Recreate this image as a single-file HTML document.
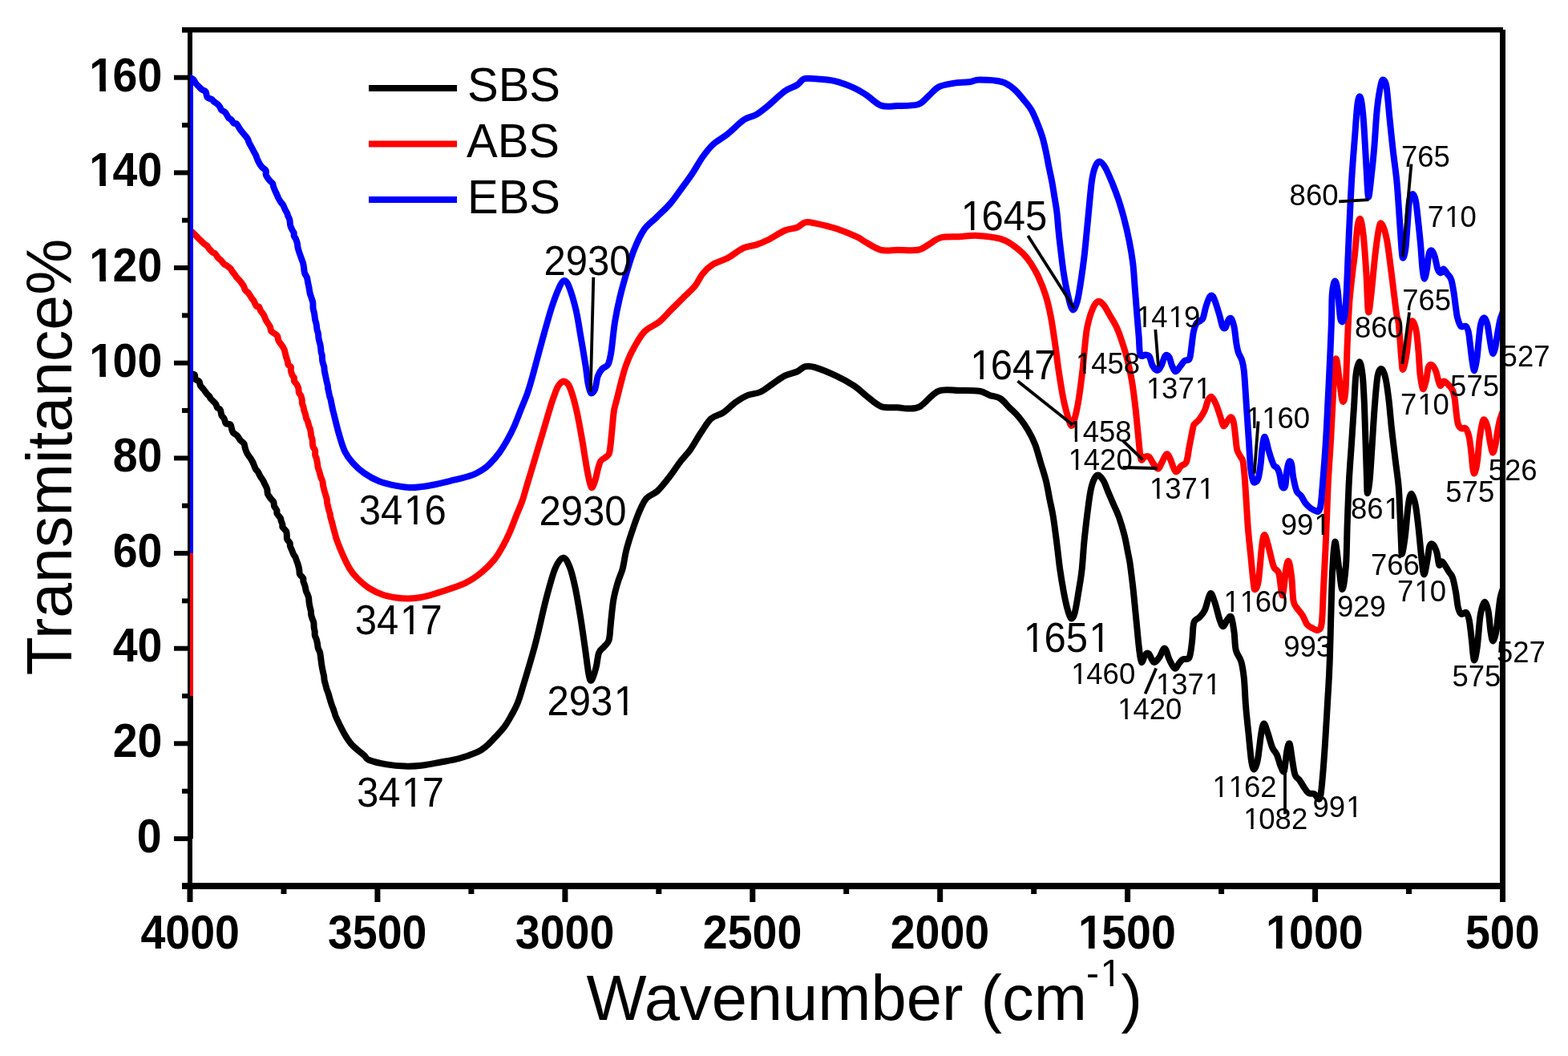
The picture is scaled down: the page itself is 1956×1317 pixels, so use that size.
<!DOCTYPE html><html><head><meta charset="utf-8"><title>FTIR</title><style>html,body{margin:0;padding:0;background:#fff;overflow:hidden}svg{display:block}</style></head><body><svg width="1956" height="1317" viewBox="0 0 1956 1317">
<rect width="100%" height="100%" fill="#fff"/>
<g fill="#000">
<rect x="234" y="34" width="6" height="1075"/>
<rect x="1871" y="37" width="7" height="1072"/>
<rect x="227" y="34" width="1648" height="6.5"/>
<rect x="227" y="1101" width="1651" height="8"/>
<rect x="227" y="1102.3" width="8" height="6"/>
<rect x="217" y="1043.0" width="18" height="6"/>
<rect x="227" y="983.7" width="8" height="6"/>
<rect x="217" y="924.3" width="18" height="6"/>
<rect x="227" y="865.0" width="8" height="6"/>
<rect x="217" y="805.7" width="18" height="6"/>
<rect x="227" y="746.4" width="8" height="6"/>
<rect x="217" y="687.0" width="18" height="6"/>
<rect x="227" y="627.7" width="8" height="6"/>
<rect x="217" y="568.4" width="18" height="6"/>
<rect x="227" y="509.0" width="8" height="6"/>
<rect x="217" y="449.7" width="18" height="6"/>
<rect x="227" y="390.4" width="8" height="6"/>
<rect x="217" y="331.0" width="18" height="6"/>
<rect x="227" y="271.7" width="8" height="6"/>
<rect x="217" y="212.4" width="18" height="6"/>
<rect x="227" y="153.1" width="8" height="6"/>
<rect x="217" y="93.7" width="18" height="6"/>
<rect x="227" y="34.4" width="8" height="6"/>
<rect x="233.5" y="1105" width="7" height="20"/>
<rect x="350.5" y="1105" width="7" height="10"/>
<rect x="467.4" y="1105" width="7" height="20"/>
<rect x="584.4" y="1105" width="7" height="10"/>
<rect x="701.4" y="1105" width="7" height="20"/>
<rect x="818.3" y="1105" width="7" height="10"/>
<rect x="935.3" y="1105" width="7" height="20"/>
<rect x="1052.2" y="1105" width="7" height="10"/>
<rect x="1169.2" y="1105" width="7" height="20"/>
<rect x="1286.2" y="1105" width="7" height="10"/>
<rect x="1403.1" y="1105" width="7" height="20"/>
<rect x="1520.1" y="1105" width="7" height="10"/>
<rect x="1637.1" y="1105" width="7" height="20"/>
<rect x="1754.0" y="1105" width="7" height="10"/>
<rect x="1871.0" y="1105" width="7" height="20"/>
</g>
<g font-family="Liberation Sans, Arial, sans-serif" font-weight="bold" style="font-kerning:none" font-size="55.5" fill="#000">
<text transform="translate(170.70,1062.80) scale(1,1.07)"><tspan x="0.00">0</tspan></text>
<text transform="translate(140.70,944.14) scale(1,1.07)"><tspan x="0.00">2</tspan><tspan x="30.87">0</tspan></text>
<text transform="translate(140.70,825.48) scale(1,1.07)"><tspan x="0.00">4</tspan><tspan x="30.87">0</tspan></text>
<text transform="translate(140.70,706.82) scale(1,1.07)"><tspan x="0.00">6</tspan><tspan x="30.87">0</tspan></text>
<text transform="translate(140.70,588.16) scale(1,1.07)"><tspan x="0.00">8</tspan><tspan x="30.87">0</tspan></text>
<text transform="translate(109.70,469.50) scale(1,1.07)" clip-path="url(#k1)"><tspan x="1.67">1</tspan><tspan x="30.87">0</tspan><tspan x="61.73">0</tspan></text>
<text transform="translate(109.70,350.84) scale(1,1.07)" clip-path="url(#k2)"><tspan x="1.67">1</tspan><tspan x="30.87">2</tspan><tspan x="61.73">0</tspan></text>
<text transform="translate(109.70,232.18) scale(1,1.07)" clip-path="url(#k3)"><tspan x="1.67">1</tspan><tspan x="30.87">4</tspan><tspan x="61.73">0</tspan></text>
<text transform="translate(109.70,113.52) scale(1,1.07)" clip-path="url(#k4)"><tspan x="1.67">1</tspan><tspan x="30.87">6</tspan><tspan x="61.73">0</tspan></text>
<text transform="translate(175.50,1183.00) scale(1,1.07)"><tspan x="0.00">4</tspan><tspan x="30.87">0</tspan><tspan x="61.73">0</tspan><tspan x="92.60">0</tspan></text>
<text transform="translate(408.93,1183.00) scale(1,1.07)"><tspan x="0.00">3</tspan><tspan x="30.87">5</tspan><tspan x="61.73">0</tspan><tspan x="92.60">0</tspan></text>
<text transform="translate(642.86,1183.00) scale(1,1.07)"><tspan x="0.00">3</tspan><tspan x="30.87">0</tspan><tspan x="61.73">0</tspan><tspan x="92.60">0</tspan></text>
<text transform="translate(876.79,1183.00) scale(1,1.07)"><tspan x="0.00">2</tspan><tspan x="30.87">5</tspan><tspan x="61.73">0</tspan><tspan x="92.60">0</tspan></text>
<text transform="translate(1110.71,1183.00) scale(1,1.07)"><tspan x="0.00">2</tspan><tspan x="30.87">0</tspan><tspan x="61.73">0</tspan><tspan x="92.60">0</tspan></text>
<text transform="translate(1343.31,1183.00) scale(1,1.07)" clip-path="url(#k5)"><tspan x="1.67">1</tspan><tspan x="30.87">5</tspan><tspan x="61.73">0</tspan><tspan x="92.60">0</tspan></text>
<text transform="translate(1577.24,1183.00) scale(1,1.07)" clip-path="url(#k6)"><tspan x="1.67">1</tspan><tspan x="30.87">0</tspan><tspan x="61.73">0</tspan><tspan x="92.60">0</tspan></text>
<text transform="translate(1828.00,1183.00) scale(1,1.07)"><tspan x="0.00">5</tspan><tspan x="30.87">0</tspan><tspan x="61.73">0</tspan></text>
</g>
<defs><clipPath id="c"><rect x="237" y="37" width="1634" height="1064"/></clipPath></defs>
<g clip-path="url(#c)" fill="none" stroke-width="8" stroke-linejoin="round" stroke-linecap="round">
<path d="M237,1046 L237,466" stroke="#000" stroke-linecap="butt"/>
<path d="M237.0,466.0 C237.9,466.2 241.6,466.1 242.7,467.3 C243.8,468.5 242.8,471.7 243.8,473.1 C244.8,474.5 247.5,474.2 248.5,475.6 C249.5,476.9 249.1,479.4 250.0,481.0 C250.9,482.6 252.4,483.7 253.8,485.4 C255.1,487.1 256.9,489.6 258.1,491.2 C259.4,492.7 260.6,493.6 261.4,494.7 C262.2,495.8 261.9,496.1 263.1,497.5 C264.4,499.0 267.7,501.7 269.0,503.5 C270.3,505.3 270.0,507.0 271.0,508.3 C272.0,509.6 273.9,509.4 274.8,511.1 C275.7,512.7 275.7,516.4 276.5,518.2 C277.3,520.1 278.7,520.3 279.6,522.0 C280.5,523.7 280.5,526.9 281.8,528.2 C283.1,529.4 286.2,528.2 287.4,529.4 C288.7,530.7 288.6,534.0 289.2,535.7 C289.8,537.4 289.8,538.4 290.9,539.7 C292.0,541.0 294.5,541.9 296.0,543.5 C297.5,545.1 298.7,547.7 300.1,549.3 C301.5,550.9 303.5,551.8 304.4,553.3 C305.3,554.8 305.2,556.7 305.6,558.2 C306.0,559.7 306.5,561.1 307.0,562.5 C307.5,563.8 307.8,564.7 308.8,566.3 C309.7,567.9 311.6,570.2 312.7,571.8 C313.7,573.5 314.6,575.0 315.3,576.4 C316.0,577.8 316.1,578.5 316.8,580.0 C317.4,581.5 318.3,584.0 319.1,585.4 C320.0,586.8 320.8,586.9 321.8,588.4 C322.8,590.0 323.9,592.9 325.0,594.7 C326.1,596.5 327.5,598.1 328.3,599.5 C329.1,600.8 329.0,601.0 329.8,602.7 C330.6,604.4 332.5,607.9 333.1,609.6 C333.8,611.4 333.3,611.7 333.5,612.9 C333.7,614.1 333.4,615.2 334.3,616.8 C335.1,618.5 337.3,621.2 338.5,622.8 C339.7,624.3 340.9,624.9 341.4,626.3 C342.0,627.7 341.4,629.4 342.0,631.1 C342.6,632.8 344.7,634.7 345.3,636.3 C345.9,637.8 344.8,638.9 345.6,640.5 C346.3,642.1 349.0,644.5 349.8,646.0 C350.7,647.5 350.2,647.9 350.6,649.3 C351.0,650.7 352.1,652.8 352.4,654.2 C352.7,655.6 351.7,656.1 352.5,657.5 C353.3,658.9 356.2,661.0 357.1,662.7 C357.9,664.4 357.6,666.0 357.8,667.6 C358.0,669.2 357.5,670.7 358.1,672.3 C358.8,673.9 360.9,675.9 361.6,677.3 C362.2,678.8 361.6,679.6 361.9,681.0 C362.3,682.5 363.2,684.1 363.9,685.8 C364.6,687.5 365.5,689.8 366.2,691.3 C367.0,692.8 367.8,693.6 368.5,695.0 C369.2,696.4 369.6,698.4 370.2,699.8 C370.7,701.3 371.1,702.2 371.7,704.0 C372.2,705.7 372.9,708.5 373.3,710.5 C373.7,712.5 373.1,714.4 373.9,716.2 C374.7,717.9 377.4,719.5 378.1,721.0 C378.9,722.5 378.0,723.4 378.4,725.1 C378.8,726.7 379.9,729.0 380.5,731.0 C381.1,733.0 381.3,735.5 381.8,737.2 C382.3,739.0 383.1,739.9 383.6,741.3 C384.2,742.8 384.8,744.1 385.1,745.8 C385.4,747.5 385.3,749.5 385.6,751.5 C385.9,753.5 386.3,755.8 386.7,757.5 C387.0,759.2 387.5,760.1 387.8,761.7 C388.1,763.2 387.9,765.2 388.2,767.0 C388.6,768.7 389.2,770.5 389.7,772.0 C390.2,773.5 390.9,774.4 391.3,776.2 C391.6,778.0 391.5,780.9 391.7,782.8 C392.0,784.7 392.5,786.2 392.7,787.8 C392.8,789.4 392.4,790.9 392.8,792.5 C393.2,794.1 394.3,796.0 394.8,797.7 C395.3,799.3 395.6,800.9 395.9,802.6 C396.3,804.4 396.3,806.7 396.8,808.4 C397.3,810.1 398.4,811.4 398.9,813.0 C399.4,814.6 399.5,816.0 399.8,817.7 C400.0,819.4 400.2,821.5 400.5,823.2 C400.7,824.9 400.8,826.4 401.1,828.1 C401.3,829.8 401.7,831.6 402.0,833.4 C402.3,835.2 402.7,836.9 403.1,838.7 C403.4,840.4 403.9,842.0 404.2,843.6 C404.4,845.3 404.3,846.8 404.7,848.5 C405.0,850.2 405.6,852.1 406.1,853.9 C406.6,855.7 406.9,857.3 407.4,859.1 C408.0,860.8 408.8,862.6 409.4,864.3 C410.0,866.1 410.4,867.8 410.9,869.5 C411.4,871.1 411.8,872.7 412.3,874.4 C412.8,876.1 413.4,878.0 414.0,879.6 C414.6,881.3 415.3,882.9 415.9,884.5 C416.5,886.2 417.0,888.0 417.6,889.7 C418.1,891.4 417.4,890.6 419.4,894.9 C421.4,899.2 426.3,909.6 429.7,915.4 C433.1,921.2 435.8,925.4 439.9,929.8 C444.0,934.2 450.9,939.0 454.3,942.0 C457.7,945.0 455.3,945.8 460.0,947.7 C464.7,949.6 475.0,952.1 482.5,953.4 C490.0,954.7 497.5,955.4 505.0,955.6 C512.5,955.8 520.0,955.4 527.5,954.5 C535.0,953.6 542.5,951.9 550.0,950.5 C557.5,949.1 565.0,948.0 572.5,946.0 C580.0,944.0 589.4,940.7 595.0,938.2 C600.6,935.7 602.5,934.0 606.2,930.9 C610.0,927.8 613.8,923.5 617.5,919.6 C621.2,915.7 625.3,911.7 628.7,907.2 C632.1,902.7 634.9,897.7 637.7,892.6 C640.5,887.5 643.4,882.3 645.6,876.9 C647.9,871.5 647.6,872.0 651.2,860.0 C654.8,848.0 662.3,823.7 667.3,805.0 C672.3,786.3 676.8,764.0 681.0,748.0 C685.2,732.0 688.8,718.0 692.4,709.3 C696.0,700.6 699.6,696.1 702.6,695.7 C705.6,695.3 708.1,700.9 710.6,707.0 C713.1,713.1 715.1,721.5 717.4,732.1 C719.7,742.7 722.2,757.9 724.3,770.8 C726.4,783.7 728.3,797.8 730.0,809.6 C731.7,821.4 733.2,835.0 734.5,841.5 C735.8,848.0 736.5,849.8 738.0,848.3 C739.5,846.8 742.1,838.0 743.6,832.3 C745.1,826.6 745.4,818.5 747.1,814.1 C748.8,809.8 751.8,808.9 753.9,806.2 C756.0,803.6 758.3,803.0 759.6,798.2 C760.9,793.5 761.0,786.1 761.9,777.7 C762.8,769.3 763.8,756.7 765.3,748.0 C766.8,739.3 769.1,731.8 771.0,725.3 C772.9,718.8 775.0,715.8 776.7,709.3 C778.4,702.8 779.3,694.2 781.2,686.6 C783.1,679.0 785.4,671.8 788.1,663.8 C790.8,655.8 794.2,645.7 797.2,638.7 C800.2,631.7 802.5,626.0 806.3,621.6 C810.1,617.2 815.1,617.1 820.0,612.5 C824.9,607.9 831.0,599.9 835.8,593.8 C840.6,587.7 844.4,581.4 848.6,575.9 C852.9,570.4 857.0,566.6 861.3,560.6 C865.5,554.6 869.8,546.5 874.1,540.1 C878.4,533.7 882.2,526.5 886.9,522.2 C891.6,518.0 897.1,518.0 902.2,514.6 C907.3,511.2 912.5,505.4 917.6,501.8 C922.7,498.2 927.8,495.0 932.9,492.9 C938.0,490.8 943.2,491.4 948.3,489.0 C953.4,486.6 958.5,482.2 963.6,478.8 C968.7,475.4 973.8,471.2 978.9,468.6 C984.0,466.1 990.0,465.4 994.3,463.5 C998.6,461.6 1000.7,458.0 1004.5,457.1 C1008.3,456.2 1010.9,456.4 1017.3,458.3 C1023.7,460.2 1034.7,464.8 1042.8,468.6 C1050.9,472.4 1059.4,477.1 1065.8,481.3 C1072.2,485.6 1075.7,489.8 1081.2,494.1 C1086.8,498.4 1092.7,504.5 1099.1,506.9 C1105.5,509.2 1114.0,507.8 1119.5,508.2 C1125.0,508.6 1127.6,509.7 1132.3,509.5 C1137.0,509.3 1141.3,510.5 1147.7,506.9 C1154.1,503.3 1162.6,491.0 1170.7,487.7 C1178.8,484.4 1187.7,487.0 1196.2,487.0 C1204.7,487.0 1215.4,486.7 1221.8,487.7 C1228.2,488.7 1230.3,491.3 1234.6,492.9 C1238.9,494.4 1243.7,494.4 1247.8,497.0 C1251.9,499.6 1255.4,504.5 1259.2,508.3 C1263.0,512.1 1266.8,515.1 1270.6,519.7 C1274.4,524.3 1278.6,530.0 1282.0,535.7 C1285.4,541.4 1288.4,547.1 1291.1,553.9 C1293.8,560.7 1295.7,569.1 1298.0,576.7 C1300.3,584.3 1302.9,591.9 1304.8,599.5 C1306.7,607.1 1307.8,614.6 1309.3,622.2 C1310.8,629.8 1312.4,635.5 1313.9,645.0 C1315.4,654.5 1317.1,668.3 1318.5,679.2 C1319.9,690.1 1320.9,700.6 1322.3,710.4 C1323.7,720.1 1325.3,729.6 1326.8,737.7 C1328.3,745.8 1329.9,753.4 1331.4,759.0 C1332.9,764.6 1334.4,770.1 1335.9,771.1 C1337.4,772.1 1339.0,770.1 1340.5,765.0 C1342.0,759.9 1343.5,749.8 1345.0,740.7 C1346.5,731.6 1348.3,722.2 1349.6,710.4 C1350.9,698.6 1351.3,685.5 1353.0,670.0 C1354.7,654.5 1357.7,629.5 1359.5,617.7 C1361.3,606.0 1362.3,603.7 1364.0,599.5 C1365.7,595.3 1367.6,592.6 1369.7,592.6 C1371.8,592.6 1374.4,596.1 1376.5,599.5 C1378.6,602.9 1380.1,608.2 1382.2,613.1 C1384.3,618.0 1386.8,623.8 1389.1,629.1 C1391.4,634.4 1393.6,638.5 1395.9,645.0 C1398.2,651.5 1400.8,660.2 1402.7,667.8 C1404.6,675.4 1406.2,684.8 1407.3,690.6 C1408.4,696.4 1408.6,695.7 1409.6,702.8 C1410.6,709.9 1412.1,721.8 1413.4,733.2 C1414.7,744.6 1415.9,758.5 1417.2,771.1 C1418.5,783.8 1419.9,800.0 1421.0,809.1 C1422.1,818.2 1422.7,824.5 1424.0,825.8 C1425.3,827.1 1427.1,818.5 1428.6,816.7 C1430.1,814.9 1431.3,813.7 1433.1,815.2 C1434.9,816.7 1437.0,825.0 1439.2,825.8 C1441.4,826.6 1443.8,822.9 1446.1,820.0 C1448.4,817.1 1450.8,808.2 1452.9,808.6 C1455.0,809.0 1456.5,818.0 1458.6,822.2 C1460.7,826.4 1463.3,832.8 1465.4,833.6 C1467.5,834.4 1469.4,828.7 1471.1,826.8 C1472.8,824.9 1473.6,823.3 1475.7,822.2 C1477.8,821.1 1481.7,823.8 1483.6,820.0 C1485.5,816.2 1486.1,806.7 1487.1,799.5 C1488.0,792.3 1487.8,781.7 1489.3,776.7 C1490.8,771.8 1493.9,772.5 1496.2,769.8 C1498.5,767.1 1500.7,765.6 1503.0,760.7 C1505.3,755.8 1507.7,741.7 1509.8,740.2 C1511.9,738.7 1513.6,746.3 1515.5,751.6 C1517.4,756.9 1519.5,767.2 1521.2,772.1 C1522.9,777.0 1524.1,781.2 1525.8,781.2 C1527.5,781.2 1529.8,774.0 1531.5,772.1 C1533.2,770.2 1534.7,767.1 1536.0,769.8 C1537.3,772.5 1538.5,781.3 1539.5,788.1 C1540.5,794.9 1540.2,804.6 1541.7,810.8 C1543.2,817.0 1546.6,819.3 1548.3,825.1 C1550.0,830.9 1550.8,836.5 1551.8,845.6 C1552.8,854.7 1553.1,868.3 1554.0,879.7 C1554.9,891.1 1556.2,902.5 1557.4,913.9 C1558.6,925.3 1559.8,940.5 1560.9,948.1 C1562.1,955.7 1563.0,959.5 1564.3,959.5 C1565.6,959.5 1567.3,955.7 1568.8,948.1 C1570.3,940.5 1572.1,921.5 1573.4,913.9 C1574.7,906.3 1575.5,902.5 1576.8,902.5 C1578.1,902.5 1579.7,909.0 1581.4,913.9 C1583.1,918.8 1585.2,927.5 1587.1,932.1 C1589.0,936.7 1591.1,937.4 1592.8,941.2 C1594.5,945.0 1595.8,951.5 1597.3,954.9 C1598.8,958.3 1600.6,964.7 1601.9,961.7 C1603.2,958.7 1604.2,942.4 1605.3,936.7 C1606.4,931.0 1607.6,925.7 1608.7,927.6 C1609.8,929.5 1611.0,941.7 1612.1,948.1 C1613.2,954.5 1614.0,962.1 1615.5,966.3 C1617.0,970.5 1619.3,970.5 1621.2,973.1 C1623.1,975.8 1625.0,979.5 1626.9,982.2 C1628.8,984.9 1630.5,987.8 1632.6,989.1 C1634.7,990.4 1637.2,989.1 1639.5,990.2 C1641.8,991.3 1644.6,999.1 1646.3,995.9 C1648.0,992.7 1648.6,982.6 1649.7,970.8 C1650.8,959.0 1652.0,942.4 1653.1,925.3 C1654.2,908.2 1655.5,885.4 1656.5,868.3 C1657.5,851.2 1657.9,848.1 1658.8,822.8 C1659.7,797.5 1660.8,741.2 1661.9,716.7 C1663.0,692.2 1664.0,677.6 1665.3,675.7 C1666.6,673.8 1668.4,695.4 1669.9,705.3 C1671.4,715.2 1672.9,735.0 1674.4,735.0 C1675.9,735.0 1677.9,719.4 1679.0,705.3 C1680.1,691.2 1680.1,668.2 1680.8,650.2 C1681.5,632.2 1682.1,613.5 1683.0,597.0 C1683.9,580.5 1685.1,566.6 1686.1,551.4 C1687.1,536.2 1688.2,519.8 1689.1,505.9 C1690.0,492.0 1690.3,477.1 1691.4,468.0 C1692.5,458.9 1694.5,451.3 1695.9,451.3 C1697.3,451.3 1698.7,458.9 1699.7,468.0 C1700.7,477.1 1701.4,492.0 1702.0,505.9 C1702.6,519.8 1703.0,536.2 1703.5,551.4 C1704.0,566.6 1704.6,586.4 1705.0,597.0 C1705.4,607.6 1705.2,615.2 1705.8,615.2 C1706.4,615.2 1707.8,607.6 1708.8,597.0 C1709.8,586.4 1710.9,566.6 1711.9,551.4 C1712.9,536.2 1713.8,519.8 1714.9,505.9 C1716.0,492.0 1717.2,475.6 1718.7,468.0 C1720.2,460.4 1722.3,459.6 1724.0,460.4 C1725.7,461.1 1727.2,466.2 1728.6,472.5 C1730.0,478.8 1731.1,487.7 1732.4,498.3 C1733.7,508.9 1734.8,523.6 1736.2,536.3 C1737.6,548.9 1739.3,562.8 1740.7,574.2 C1742.1,585.6 1743.6,595.3 1744.5,604.6 C1745.4,613.9 1745.6,621.6 1746.0,630.0 C1746.4,638.4 1746.7,646.8 1747.0,655.0 C1747.3,663.2 1747.7,673.0 1748.0,679.0 C1748.3,685.0 1748.2,692.4 1749.0,690.8 C1749.8,689.1 1751.5,679.3 1752.8,669.1 C1754.1,658.9 1755.5,638.5 1756.8,629.6 C1758.1,620.7 1759.2,615.8 1760.7,615.8 C1762.2,615.8 1764.2,622.4 1765.7,629.6 C1767.2,636.8 1768.3,647.7 1769.6,659.2 C1770.9,670.7 1772.4,689.2 1773.6,698.7 C1774.8,708.2 1775.3,716.5 1776.5,716.5 C1777.7,716.5 1779.3,704.6 1780.5,698.7 C1781.7,692.8 1782.2,684.3 1783.4,681.0 C1784.6,677.7 1785.9,677.7 1787.4,679.0 C1788.9,680.3 1791.0,684.6 1792.3,688.9 C1793.6,693.2 1794.1,702.7 1795.3,704.7 C1796.5,706.7 1797.2,699.4 1799.2,700.7 C1801.2,702.0 1804.9,709.3 1807.1,712.6 C1809.2,715.9 1810.6,716.2 1812.1,720.5 C1813.6,724.8 1814.8,732.0 1816.0,738.2 C1817.2,744.5 1817.8,753.4 1819.0,758.0 C1820.2,762.6 1821.2,764.9 1822.9,765.9 C1824.6,766.9 1827.2,762.6 1828.9,763.9 C1830.6,765.2 1831.7,768.2 1832.8,773.8 C1833.9,779.4 1834.8,789.3 1835.8,797.5 C1836.8,805.7 1837.5,821.5 1838.7,823.1 C1839.9,824.7 1841.4,816.5 1842.7,807.3 C1844.0,798.1 1845.1,777.3 1846.6,767.9 C1848.1,758.5 1849.9,752.1 1851.6,751.1 C1853.2,750.1 1855.2,755.8 1856.5,761.9 C1857.8,768.0 1858.5,781.4 1859.5,787.6 C1860.5,793.9 1861.2,799.4 1862.4,799.4 C1863.6,799.4 1865.1,795.2 1866.4,787.6 C1867.7,780.0 1869.3,761.6 1870.3,754.0 C1871.3,746.4 1871.0,747.0 1872.3,742.2 C1873.6,737.4 1877.0,727.9 1878.0,725.0" stroke="#000"/>
<path d="M237,868 L237,287" stroke="#f00" stroke-linecap="butt"/>
<path d="M237.0,287.0 C237.7,287.6 239.6,289.2 241.1,290.6 C242.6,292.0 245.1,294.6 245.9,295.4 C246.7,296.2 245.1,294.7 245.8,295.5 C246.6,296.3 249.0,298.7 250.6,300.2 C252.2,301.7 254.1,303.5 255.4,304.6 C256.7,305.6 257.4,305.5 258.3,306.6 C259.3,307.6 260.2,309.4 261.3,310.8 C262.4,312.2 264.0,313.7 265.2,314.7 C266.4,315.7 267.5,315.5 268.7,316.6 C269.8,317.8 270.8,320.1 271.9,321.4 C273.0,322.7 273.9,322.9 275.2,324.2 C276.5,325.6 278.6,328.5 279.8,329.6 C281.0,330.7 281.2,330.1 282.5,331.0 C283.8,331.9 286.5,333.9 287.7,335.1 C288.8,336.2 288.5,336.7 289.4,338.0 C290.3,339.2 292.2,341.4 293.1,342.7 C294.0,344.0 293.8,344.2 295.0,345.6 C296.2,347.0 298.6,349.4 300.1,351.2 C301.6,353.1 302.8,354.7 303.8,356.5 C304.8,358.3 305.1,360.5 306.0,361.9 C306.9,363.3 308.4,363.9 309.2,364.7 C310.0,365.5 309.9,365.5 310.8,366.8 C311.7,368.1 313.5,371.1 314.4,372.5 C315.3,373.9 315.5,373.4 316.4,374.9 C317.3,376.4 318.6,380.4 319.7,381.7 C320.8,383.0 322.1,381.5 323.0,382.5 C323.9,383.4 324.0,385.5 325.0,387.3 C326.0,389.1 328.2,391.4 329.3,393.3 C330.3,395.2 330.8,397.2 331.5,398.7 C332.2,400.2 332.6,400.7 333.5,402.2 C334.4,403.7 336.2,405.8 336.9,407.5 C337.7,409.2 337.3,411.2 338.0,412.5 C338.6,413.7 339.7,413.9 341.0,415.0 C342.3,416.1 344.8,417.1 345.9,418.8 C347.0,420.4 346.5,422.9 347.5,425.0 C348.5,427.1 350.8,429.4 352.0,431.3 C353.1,433.1 354.0,434.5 354.6,436.0 C355.2,437.5 355.4,438.8 355.8,440.5 C356.3,442.2 356.8,444.6 357.3,446.2 C357.8,447.9 358.3,448.8 358.7,450.2 C359.1,451.7 358.9,453.5 359.5,454.8 C360.2,456.0 362.3,456.4 362.8,457.6 C363.4,458.8 362.5,460.4 362.8,462.1 C363.1,463.8 364.0,466.5 364.7,468.1 C365.4,469.6 366.5,470.0 366.9,471.2 C367.2,472.3 366.4,473.8 366.9,475.2 C367.5,476.6 369.2,477.8 370.1,479.3 C371.0,480.8 371.9,482.5 372.3,484.2 C372.8,485.9 372.3,487.9 372.8,489.4 C373.3,490.9 374.6,491.8 375.3,493.4 C376.0,495.1 376.5,497.5 376.8,499.1 C377.0,500.7 376.6,501.7 376.9,503.1 C377.2,504.6 378.3,506.5 378.6,507.9 C379.0,509.3 378.8,510.0 379.2,511.5 C379.6,513.0 380.5,515.0 381.0,516.8 C381.5,518.6 381.8,521.0 382.2,522.3 C382.7,523.7 383.2,523.5 383.7,525.0 C384.2,526.4 384.8,529.4 385.3,530.9 C385.8,532.5 386.3,533.1 386.7,534.4 C387.1,535.7 387.3,537.1 387.6,538.7 C387.8,540.3 388.0,542.5 388.3,544.1 C388.6,545.7 389.4,546.6 389.6,548.2 C389.9,549.9 389.8,552.3 389.9,553.9 C390.1,555.5 390.3,556.5 390.8,557.8 C391.4,559.2 392.8,560.3 393.1,561.9 C393.5,563.6 392.9,565.9 393.2,567.5 C393.4,569.1 394.3,569.8 394.7,571.5 C395.1,573.2 395.5,575.6 395.9,577.5 C396.2,579.4 396.2,580.9 396.6,582.7 C397.0,584.6 397.9,586.6 398.5,588.6 C399.1,590.6 399.4,592.6 400.0,594.5 C400.6,596.4 401.8,598.2 402.3,600.0 C402.8,601.8 402.7,603.5 402.9,605.0 C403.2,606.6 403.6,607.9 404.0,609.3 C404.3,610.7 404.6,612.0 405.0,613.4 C405.5,614.9 406.1,616.7 406.5,618.2 C406.9,619.7 407.4,621.0 407.7,622.5 C407.9,624.0 407.9,625.9 408.1,627.4 C408.4,628.9 408.9,630.1 409.2,631.6 C409.5,633.1 409.8,634.9 410.2,636.4 C410.6,637.9 411.3,639.3 411.7,640.8 C412.0,642.3 412.0,643.9 412.4,645.5 C412.8,647.1 413.4,648.7 413.8,650.2 C414.3,651.8 414.6,653.2 415.0,654.7 C415.4,656.2 415.7,657.7 416.1,659.2 C416.5,660.7 417.0,662.3 417.4,663.8 C417.8,665.3 418.3,666.9 418.7,668.4 C419.1,669.9 418.5,669.1 419.9,672.9 C421.3,676.7 424.5,685.0 427.2,691.1 C429.9,697.2 433.2,704.2 436.3,709.3 C439.4,714.4 441.9,717.5 446.0,721.5 C450.1,725.5 455.3,730.2 460.6,733.6 C465.9,737.0 471.9,739.8 477.6,741.8 C483.3,743.8 489.6,744.7 495.0,745.5 C500.4,746.3 505.0,746.6 510.0,746.5 C515.0,746.4 519.6,746.0 525.0,745.0 C530.4,744.0 533.4,743.5 542.6,740.5 C551.8,737.5 570.4,731.7 580.0,727.3 C589.6,722.9 594.4,719.0 600.5,714.0 C606.6,709.0 612.4,703.1 616.9,697.6 C621.4,692.1 624.1,686.7 627.2,681.2 C630.3,675.7 632.7,670.9 635.4,664.8 C638.1,658.6 640.9,651.1 643.6,644.3 C646.3,637.5 649.4,630.6 651.8,623.8 C654.2,617.0 655.8,610.1 657.9,603.3 C660.0,596.5 662.0,589.6 664.1,582.8 C666.2,576.0 668.2,569.1 670.2,562.3 C672.2,555.5 674.4,548.6 676.4,541.8 C678.4,535.0 680.5,528.1 682.5,521.3 C684.5,514.5 686.7,506.9 688.7,500.8 C690.8,494.7 693.1,488.2 694.8,484.4 C696.5,480.6 697.5,479.5 699.0,478.0 C700.5,476.5 701.9,475.2 703.6,475.6 C705.3,476.0 707.4,476.9 709.3,480.1 C711.2,483.3 713.0,488.6 714.8,494.7 C716.6,500.8 718.4,508.0 720.2,516.5 C722.0,525.0 724.2,537.2 725.7,545.7 C727.2,554.2 728.1,560.3 729.3,567.6 C730.5,574.9 731.6,582.7 733.0,589.4 C734.4,596.1 736.0,605.9 737.5,607.7 C739.0,609.5 740.7,604.0 742.1,600.4 C743.5,596.8 744.5,590.0 745.7,585.8 C746.9,581.5 747.6,577.6 749.4,574.9 C751.2,572.2 754.9,571.2 756.7,569.4 C758.5,567.6 759.2,568.8 760.3,563.9 C761.4,559.0 762.2,548.7 763.1,540.2 C764.0,531.7 764.8,519.9 765.8,512.9 C766.8,505.9 767.9,504.4 769.4,498.3 C770.9,492.2 773.1,483.1 774.9,476.4 C776.7,469.7 777.8,464.5 780.0,458.2 C782.2,451.9 784.4,445.7 788.3,438.3 C792.2,430.9 797.9,420.1 803.5,414.0 C809.1,407.9 816.1,406.4 821.7,401.9 C827.3,397.3 831.8,391.8 836.9,386.7 C842.0,381.6 847.0,376.6 852.1,371.5 C857.2,366.4 863.2,361.4 867.3,356.3 C871.4,351.2 873.0,345.6 876.7,341.2 C880.4,336.8 884.4,332.9 889.5,329.7 C894.6,326.5 901.0,325.4 907.4,322.0 C913.8,318.6 921.8,312.0 927.8,309.2 C933.8,306.4 938.0,307.1 943.1,305.4 C948.2,303.7 952.5,302.0 958.5,299.0 C964.5,296.0 972.9,290.1 978.9,287.5 C984.9,284.9 990.0,285.4 994.3,283.7 C998.6,282.0 1000.7,278.1 1004.5,277.3 C1008.3,276.5 1010.9,277.3 1017.3,278.6 C1023.7,279.9 1034.3,282.2 1042.8,285.0 C1051.3,287.8 1062.0,292.2 1068.4,295.2 C1074.8,298.2 1076.1,300.0 1081.2,302.8 C1086.3,305.6 1092.7,310.3 1099.1,311.8 C1105.5,313.3 1111.8,311.8 1119.5,311.8 C1127.2,311.8 1138.7,312.9 1145.1,311.8 C1151.5,310.7 1153.2,307.9 1157.9,305.4 C1162.6,302.8 1166.8,298.2 1173.2,296.5 C1179.6,294.8 1188.5,295.6 1196.2,295.2 C1203.9,294.8 1210.7,293.5 1219.2,293.9 C1227.7,294.3 1240.0,295.8 1247.3,297.7 C1254.6,299.6 1258.0,302.1 1262.9,305.3 C1267.8,308.5 1272.8,312.9 1276.6,316.7 C1280.4,320.5 1282.7,323.6 1285.7,328.1 C1288.7,332.7 1291.8,337.6 1294.8,344.0 C1297.8,350.4 1301.2,358.4 1303.9,366.8 C1306.6,375.2 1308.6,383.5 1310.7,394.1 C1312.8,404.7 1314.7,419.2 1316.4,430.6 C1318.1,442.1 1319.0,451.7 1320.7,462.8 C1322.4,473.9 1324.5,487.5 1326.4,497.0 C1328.3,506.5 1330.4,514.0 1332.1,519.7 C1333.8,525.4 1335.2,531.1 1336.7,531.1 C1338.2,531.1 1339.7,525.4 1341.2,519.7 C1342.7,514.0 1344.3,506.5 1345.8,497.0 C1347.3,487.5 1349.1,473.1 1350.3,462.8 C1351.5,452.5 1352.0,444.2 1353.0,435.0 C1354.0,425.8 1354.6,416.1 1356.3,407.8 C1358.0,399.5 1360.8,390.3 1363.1,385.0 C1365.4,379.7 1367.7,376.6 1370.0,375.9 C1372.3,375.1 1374.5,377.9 1376.8,380.5 C1379.1,383.1 1380.9,387.2 1383.6,391.8 C1386.2,396.4 1390.0,402.1 1392.7,407.8 C1395.4,413.5 1397.3,419.2 1399.6,426.0 C1401.9,432.8 1404.4,440.8 1406.4,448.8 C1408.4,456.8 1410.1,464.3 1411.8,474.2 C1413.5,484.1 1415.1,496.9 1416.4,508.3 C1417.7,519.7 1418.7,531.9 1419.8,542.5 C1420.9,553.1 1421.9,567.6 1423.2,572.1 C1424.5,576.6 1426.1,570.2 1427.8,569.8 C1429.5,569.4 1431.6,568.3 1433.5,569.8 C1435.4,571.3 1437.3,576.5 1439.2,579.0 C1441.1,581.5 1443.2,585.0 1444.9,584.6 C1446.6,584.2 1447.7,579.7 1449.4,576.7 C1451.1,573.7 1453.4,567.2 1455.1,566.4 C1456.8,565.6 1457.8,568.5 1459.7,572.1 C1461.6,575.7 1464.2,586.6 1466.5,588.1 C1468.8,589.6 1471.0,583.2 1473.3,581.2 C1475.5,579.2 1478.3,580.1 1480.0,576.0 C1481.7,571.9 1482.3,563.5 1483.7,556.4 C1485.1,549.3 1487.2,538.2 1488.2,533.6 C1489.2,529.0 1488.6,530.7 1490.0,528.9 C1491.4,527.1 1494.3,525.4 1496.4,522.6 C1498.5,519.8 1501.0,515.8 1502.8,511.9 C1504.6,508.0 1505.6,501.9 1507.0,499.1 C1508.4,496.3 1509.7,494.2 1511.3,494.9 C1512.9,495.6 1514.8,499.5 1516.6,503.4 C1518.4,507.3 1520.3,513.7 1521.9,518.3 C1523.5,522.9 1524.6,530.0 1526.2,531.1 C1527.8,532.2 1529.9,526.5 1531.5,524.7 C1533.1,522.9 1534.5,520.0 1535.7,520.4 C1536.9,520.8 1538.0,522.9 1538.9,526.8 C1539.8,530.7 1540.4,538.1 1541.1,543.8 C1541.8,549.5 1542.2,556.6 1543.2,560.9 C1544.2,565.2 1546.2,566.9 1547.4,569.4 C1548.6,571.9 1549.7,571.1 1550.6,575.7 C1551.5,580.3 1552.1,588.1 1552.8,597.0 C1553.5,605.9 1554.2,618.2 1554.9,628.9 C1555.6,639.5 1556.1,650.2 1557.0,660.9 C1557.9,671.5 1559.1,682.2 1560.2,692.8 C1561.3,703.4 1562.5,717.6 1563.4,724.7 C1564.3,731.8 1564.4,735.3 1565.5,735.3 C1566.6,735.3 1568.4,733.6 1569.8,724.7 C1571.2,715.8 1572.8,691.7 1574.0,682.1 C1575.2,672.5 1575.9,667.8 1577.2,667.2 C1578.5,666.6 1580.1,673.7 1581.6,678.7 C1583.1,683.7 1584.8,692.1 1586.1,697.0 C1587.4,701.9 1588.1,705.3 1589.6,708.3 C1591.1,711.3 1593.6,709.5 1595.3,715.2 C1597.0,720.9 1598.3,743.6 1599.8,742.5 C1601.3,741.4 1603.1,715.3 1604.4,708.3 C1605.7,701.3 1606.7,698.5 1607.8,700.4 C1608.9,702.3 1610.2,711.6 1611.2,719.7 C1612.2,727.9 1612.4,742.8 1613.5,749.3 C1614.6,755.8 1616.1,755.5 1618.0,758.5 C1619.9,761.5 1622.8,764.2 1624.9,767.6 C1627.0,771.0 1628.5,776.4 1630.6,779.0 C1632.7,781.6 1635.1,782.4 1637.4,783.5 C1639.7,784.6 1642.3,786.9 1644.2,785.8 C1646.1,784.7 1647.7,785.8 1648.8,776.7 C1649.9,767.6 1650.3,746.3 1651.1,731.1 C1651.9,715.9 1652.7,700.8 1653.4,685.6 C1654.1,670.4 1654.7,654.7 1655.3,640.0 C1655.9,625.3 1656.2,612.7 1657.0,597.5 C1657.8,582.3 1659.2,565.0 1660.1,548.8 C1661.0,532.6 1661.8,515.8 1662.6,500.2 C1663.4,484.6 1664.2,463.5 1665.0,455.0 C1665.8,446.5 1666.4,445.6 1667.4,449.1 C1668.4,452.6 1669.9,467.4 1671.1,475.9 C1672.3,484.4 1673.5,498.2 1674.7,500.2 C1675.9,502.2 1677.4,500.1 1678.4,488.0 C1679.4,475.9 1680.0,445.5 1680.8,427.3 C1681.6,409.1 1682.2,392.8 1683.2,378.6 C1684.2,364.4 1685.8,352.2 1686.9,342.2 C1688.0,332.2 1688.8,328.4 1689.9,318.4 C1691.0,308.4 1692.3,289.5 1693.5,282.0 C1694.7,274.5 1696.0,271.5 1697.2,273.5 C1698.4,275.5 1699.6,282.7 1700.8,294.2 C1702.0,305.7 1703.5,326.9 1704.5,342.7 C1705.5,358.5 1705.9,384.8 1706.9,388.8 C1707.9,392.9 1709.1,378.7 1710.5,367.0 C1711.9,355.3 1713.8,332.1 1715.4,318.4 C1717.0,304.6 1718.8,291.0 1720.2,284.5 C1721.6,278.0 1722.3,277.2 1723.9,279.6 C1725.5,282.0 1728.0,288.5 1730.0,299.0 C1732.0,309.5 1734.0,327.3 1736.0,342.7 C1738.0,358.1 1740.6,381.1 1742.1,391.3 C1743.6,401.5 1743.8,394.3 1744.8,404.0 C1745.8,413.7 1747.5,440.2 1748.4,449.6 C1749.3,459.0 1749.2,462.0 1750.3,460.5 C1751.4,459.0 1753.4,449.3 1754.8,440.5 C1756.2,431.7 1757.3,414.4 1758.5,407.7 C1759.7,401.0 1760.7,399.5 1762.1,400.4 C1763.5,401.3 1765.5,406.5 1766.7,413.1 C1768.0,419.7 1768.8,431.0 1769.6,440.0 C1770.4,449.0 1770.7,459.8 1771.6,467.3 C1772.5,474.8 1773.8,484.0 1775.0,485.1 C1776.2,486.2 1777.9,478.8 1779.1,474.2 C1780.2,469.6 1780.8,461.0 1781.9,457.8 C1783.1,454.6 1784.5,454.3 1786.0,455.0 C1787.5,455.7 1789.4,458.7 1790.8,461.9 C1792.2,465.1 1793.2,471.0 1794.2,474.2 C1795.2,477.4 1795.8,480.8 1796.9,481.0 C1798.0,481.2 1799.4,475.7 1801.0,475.5 C1802.6,475.3 1804.7,477.8 1806.5,479.6 C1808.3,481.4 1810.5,483.5 1811.9,486.5 C1813.3,489.5 1813.9,492.6 1814.7,497.4 C1815.5,502.2 1816.0,510.0 1816.7,515.2 C1817.4,520.4 1817.8,525.6 1818.8,528.8 C1819.8,532.0 1821.3,533.4 1822.9,534.3 C1824.5,535.2 1826.7,532.7 1828.3,534.3 C1829.9,535.9 1831.2,539.1 1832.4,543.9 C1833.6,548.7 1834.4,556.4 1835.2,563.0 C1836.0,569.6 1836.5,579.0 1837.2,583.5 C1837.9,588.0 1838.4,591.4 1839.3,590.3 C1840.2,589.2 1841.7,583.5 1842.7,576.7 C1843.7,569.9 1844.4,557.3 1845.4,549.3 C1846.4,541.3 1847.8,533.1 1848.8,528.8 C1849.8,524.5 1850.4,522.7 1851.6,523.4 C1852.8,524.1 1854.6,528.6 1855.7,532.9 C1856.8,537.2 1857.4,544.0 1858.4,549.3 C1859.4,554.5 1860.7,563.2 1861.8,564.4 C1862.9,565.5 1864.2,560.5 1865.2,556.2 C1866.2,551.9 1867.1,543.6 1868.0,538.4 C1868.9,533.1 1869.8,528.4 1870.7,524.7 C1871.6,521.1 1872.2,519.8 1873.4,516.5 C1874.6,513.2 1877.2,506.9 1878.0,505.0" stroke="#f00"/>
<path d="M237,690 L237,97" stroke="#00f" stroke-linecap="butt"/>
<path d="M237.0,97.0 C237.7,97.3 240.1,97.9 241.2,99.0 C242.3,100.1 242.8,102.0 243.9,103.5 C245.0,105.0 246.6,106.6 248.0,108.0 C249.4,109.4 250.7,110.8 252.1,111.9 C253.5,113.0 255.6,112.8 256.6,114.4 C257.7,115.9 257.2,119.6 258.5,121.2 C259.8,122.8 263.0,123.1 264.3,124.0 C265.6,124.9 265.2,125.3 266.5,126.4 C267.8,127.5 270.8,129.3 272.1,130.6 C273.5,131.9 273.9,132.8 274.6,134.0 C275.3,135.1 275.3,136.4 276.4,137.4 C277.5,138.4 279.5,138.6 281.0,140.2 C282.4,141.7 283.7,145.2 285.0,146.8 C286.3,148.3 287.5,148.3 288.6,149.5 C289.7,150.7 290.6,152.9 291.7,153.7 C292.8,154.6 294.1,153.6 295.3,154.6 C296.4,155.7 297.7,158.5 298.6,159.9 C299.5,161.3 299.9,161.9 300.7,162.9 C301.5,163.9 301.9,164.5 303.3,166.1 C304.6,167.7 307.3,170.6 308.5,172.5 C309.8,174.4 309.6,175.6 310.5,177.5 C311.4,179.4 313.0,182.1 314.1,184.1 C315.2,186.1 316.1,188.0 316.9,189.5 C317.8,191.1 318.2,191.6 319.0,193.3 C319.8,195.0 320.5,197.6 321.5,199.6 C322.4,201.7 323.5,203.8 324.5,205.4 C325.5,207.0 326.3,207.9 327.5,209.1 C328.7,210.3 331.0,211.3 331.7,212.8 C332.4,214.4 331.1,216.5 331.9,218.4 C332.6,220.4 334.6,222.8 336.0,224.6 C337.4,226.4 339.2,227.5 340.1,228.9 C340.9,230.4 340.7,231.5 341.2,233.0 C341.7,234.5 342.4,236.3 343.2,237.9 C343.9,239.6 344.8,241.3 345.5,242.9 C346.2,244.5 346.6,245.8 347.5,247.5 C348.4,249.2 350.0,251.6 350.9,253.0 C351.9,254.3 352.4,254.4 353.2,255.8 C354.0,257.2 354.9,259.9 355.8,261.6 C356.6,263.4 357.8,265.0 358.3,266.2 C358.9,267.3 358.5,267.4 359.0,268.7 C359.5,270.0 360.7,271.8 361.3,274.0 C361.8,276.1 361.7,279.3 362.3,281.6 C362.9,283.9 364.3,286.0 365.0,287.5 C365.7,288.9 366.3,289.3 366.6,290.4 C366.9,291.6 366.4,293.3 366.8,294.5 C367.2,295.7 368.3,296.4 369.0,297.9 C369.6,299.4 370.4,301.7 370.8,303.3 C371.2,304.9 371.0,305.8 371.3,307.4 C371.6,309.0 372.0,310.5 372.6,312.6 C373.3,314.8 374.3,317.7 375.2,320.3 C376.1,322.9 377.4,325.9 378.0,328.0 C378.6,330.2 378.7,331.1 379.0,333.2 C379.3,335.3 379.3,338.2 380.0,340.4 C380.6,342.5 382.2,344.2 382.9,346.1 C383.6,348.0 383.6,349.6 384.0,351.8 C384.4,353.9 385.1,356.6 385.5,359.0 C385.9,361.4 386.2,363.8 386.7,366.0 C387.2,368.1 388.1,370.0 388.7,371.9 C389.3,373.8 390.0,375.4 390.3,377.5 C390.6,379.7 390.3,382.6 390.6,384.8 C390.9,387.0 391.6,388.4 392.0,390.6 C392.4,392.8 392.6,395.7 393.0,398.0 C393.4,400.3 394.2,402.1 394.6,404.2 C395.0,406.4 395.1,409.0 395.5,411.0 C395.9,413.0 396.7,414.7 397.0,416.4 C397.3,418.1 397.2,419.8 397.4,421.2 C397.6,422.5 397.7,423.3 398.1,424.7 C398.4,426.0 399.0,427.7 399.4,429.4 C399.7,431.0 400.0,433.1 400.2,434.7 C400.4,436.3 400.3,437.7 400.6,439.2 C400.9,440.6 401.6,441.9 401.8,443.5 C402.0,445.1 401.8,447.1 402.0,448.8 C402.2,450.4 402.6,452.0 403.0,453.4 C403.4,454.9 404.1,456.0 404.3,457.4 C404.6,458.9 404.5,460.6 404.7,462.1 C404.9,463.6 405.3,465.1 405.6,466.7 C405.9,468.2 406.3,469.7 406.6,471.3 C407.0,472.8 407.2,474.3 407.5,475.8 C407.8,477.3 408.4,478.8 408.7,480.3 C409.0,481.8 409.0,483.5 409.2,485.0 C409.5,486.5 409.9,487.9 410.2,489.4 C410.5,490.9 410.7,492.3 411.1,493.9 C411.5,495.4 412.2,497.0 412.6,498.5 C412.9,500.1 413.1,501.4 413.4,502.9 C413.7,504.4 414.1,506.1 414.4,507.7 C414.8,509.3 415.0,510.7 415.4,512.3 C415.8,513.8 415.4,511.9 416.6,516.8 C417.8,521.7 420.6,533.8 422.9,541.5 C425.1,549.2 427.2,556.9 430.1,562.9 C433.0,568.9 436.1,572.8 440.1,577.3 C444.2,581.8 448.9,586.3 454.4,590.1 C459.9,593.9 466.3,597.6 473.0,600.2 C479.7,602.8 487.8,604.6 494.5,605.9 C501.2,607.2 505.9,608.1 513.1,608.0 C520.3,607.9 528.7,606.8 537.5,605.2 C546.3,603.7 557.8,600.7 566.1,598.7 C574.5,596.7 581.6,595.1 587.6,593.0 C593.6,590.9 598.0,588.2 601.9,585.8 C605.8,583.4 607.3,582.3 610.8,578.7 C614.3,575.1 619.4,569.4 623.1,564.3 C626.9,559.2 630.2,553.4 633.3,547.9 C636.4,542.4 638.8,537.6 641.5,531.5 C644.2,525.4 647.0,517.8 649.7,511.0 C652.4,504.2 655.5,497.3 657.9,490.5 C660.3,483.7 661.1,480.7 664.1,470.0 C667.1,459.3 671.9,440.6 675.9,426.2 C679.9,411.8 684.5,394.8 688.1,383.6 C691.7,372.5 694.7,364.9 697.2,359.3 C699.7,353.7 701.3,350.7 703.3,350.2 C705.3,349.7 706.8,350.2 709.3,356.3 C711.8,362.4 716.0,376.1 718.5,386.7 C721.0,397.3 722.5,408.5 724.5,420.1 C726.5,431.7 729.1,446.9 730.6,456.5 C732.1,466.1 732.4,472.4 733.5,478.0 C734.6,483.6 735.6,488.7 737.0,490.0 C738.4,491.3 740.6,489.1 742.1,485.6 C743.6,482.1 744.2,473.5 745.7,469.2 C747.2,464.9 749.1,462.4 751.2,460.0 C753.3,457.6 756.6,458.2 758.5,454.6 C760.4,451.0 761.1,447.1 762.5,438.3 C763.9,429.5 765.2,413.0 767.0,401.9 C768.8,390.8 770.6,382.1 773.1,371.5 C775.6,360.9 779.2,348.2 782.2,338.1 C785.2,328.0 787.8,319.3 791.3,310.7 C794.8,302.1 798.9,293.0 803.5,286.4 C808.1,279.8 813.3,276.7 818.7,271.3 C824.1,265.9 830.6,260.2 836.0,254.0 C841.4,247.8 846.5,240.2 851.1,233.8 C855.8,227.5 859.6,222.3 863.9,215.9 C868.2,209.5 872.4,201.5 876.7,195.5 C881.0,189.5 884.4,184.8 889.5,180.1 C894.6,175.4 901.0,172.5 907.4,167.4 C913.8,162.3 921.8,153.6 927.8,149.5 C933.8,145.4 938.0,146.1 943.1,143.1 C948.2,140.1 952.5,136.5 958.5,131.6 C964.5,126.7 972.9,118.0 978.9,113.7 C984.9,109.4 990.2,108.6 994.3,106.0 C998.3,103.4 999.4,99.6 1003.2,98.3 C1007.0,97.0 1011.1,97.9 1017.3,98.3 C1023.5,98.7 1032.2,99.0 1040.3,100.9 C1048.4,102.8 1059.0,106.8 1065.8,109.8 C1072.6,112.8 1075.7,115.2 1081.2,118.8 C1086.8,122.4 1092.7,129.4 1099.1,131.6 C1105.5,133.8 1111.8,132.3 1119.5,132.1 C1127.2,131.9 1138.7,132.3 1145.1,130.3 C1151.5,128.3 1153.6,123.7 1157.9,120.1 C1162.2,116.5 1165.6,111.3 1170.7,108.6 C1175.8,105.9 1182.1,105.1 1188.5,104.0 C1194.9,102.9 1203.5,102.9 1209.0,102.2 C1214.5,101.5 1215.0,99.6 1221.8,99.6 C1228.6,99.6 1242.7,100.2 1249.9,102.2 C1257.1,104.2 1260.6,107.5 1265.2,111.3 C1269.8,115.1 1273.9,120.7 1277.4,125.0 C1281.0,129.3 1283.7,132.3 1286.5,137.1 C1289.3,141.9 1291.8,148.2 1294.1,153.8 C1296.4,159.4 1298.4,164.7 1300.2,170.5 C1302.0,176.3 1303.3,182.5 1304.7,188.8 C1306.1,195.1 1307.2,202.2 1308.5,208.5 C1309.8,214.8 1311.2,220.7 1312.3,226.8 C1313.4,232.9 1314.3,238.7 1315.3,245.0 C1316.3,251.3 1317.5,257.3 1318.4,264.8 C1319.3,272.3 1320.0,283.2 1320.7,290.2 C1321.4,297.2 1321.6,298.8 1322.6,307.0 C1323.6,315.2 1325.1,329.1 1326.7,339.5 C1328.3,349.9 1330.5,361.3 1332.4,369.1 C1334.3,376.9 1336.2,385.1 1338.1,386.2 C1340.0,387.3 1342.1,381.8 1343.8,375.9 C1345.5,370.0 1346.8,360.7 1348.3,350.8 C1349.8,340.9 1351.4,330.0 1352.9,316.7 C1354.4,303.4 1355.9,286.3 1357.4,271.1 C1358.9,255.9 1360.5,236.2 1362.0,225.6 C1363.5,215.0 1364.8,211.3 1366.5,207.3 C1368.2,203.3 1370.1,201.2 1372.2,201.6 C1374.3,202.0 1376.4,204.8 1379.1,209.6 C1381.8,214.3 1385.5,223.6 1388.2,230.1 C1390.9,236.6 1392.7,241.5 1395.0,248.3 C1397.3,255.1 1399.5,262.4 1401.8,271.1 C1404.1,279.8 1406.8,291.2 1408.7,300.7 C1410.6,310.2 1412.0,318.2 1413.2,328.1 C1414.4,338.0 1415.0,349.6 1415.8,360.0 C1416.6,370.4 1417.4,380.3 1418.2,390.4 C1419.0,400.5 1420.0,412.0 1420.7,420.7 C1421.4,429.4 1421.1,439.0 1422.5,442.6 C1423.9,446.2 1427.3,442.2 1429.2,442.6 C1431.1,443.0 1432.6,442.8 1434.0,445.0 C1435.4,447.2 1436.1,453.2 1437.7,456.0 C1439.3,458.8 1441.9,462.0 1443.7,462.0 C1445.5,462.0 1447.0,459.0 1448.6,456.0 C1450.2,453.0 1451.9,445.6 1453.5,443.8 C1455.1,442.0 1456.9,443.0 1458.3,445.0 C1459.7,447.0 1460.6,452.9 1462.0,456.0 C1463.4,459.1 1465.0,463.3 1466.8,463.3 C1468.6,463.3 1471.1,458.2 1472.9,456.0 C1474.7,453.8 1476.0,451.3 1477.8,449.9 C1479.6,448.5 1482.4,450.3 1483.8,447.5 C1485.2,444.7 1485.5,438.4 1486.3,432.9 C1487.1,427.4 1487.7,419.6 1488.7,414.7 C1489.7,409.8 1490.9,406.1 1492.3,403.7 C1493.7,401.3 1495.8,401.3 1497.2,400.1 C1498.6,398.9 1499.6,399.4 1500.8,396.4 C1502.0,393.4 1503.1,386.3 1504.5,381.9 C1505.9,377.4 1507.9,371.7 1509.3,369.7 C1510.7,367.7 1511.8,368.3 1513.0,369.7 C1514.2,371.1 1515.2,374.1 1516.6,378.2 C1518.0,382.2 1520.1,389.1 1521.5,394.0 C1522.9,398.9 1523.9,405.0 1525.1,407.4 C1526.3,409.8 1527.6,410.0 1528.8,408.6 C1530.0,407.2 1531.2,400.7 1532.4,398.9 C1533.6,397.1 1534.9,396.1 1536.1,397.7 C1537.3,399.3 1538.7,403.8 1539.7,408.6 C1540.7,413.5 1541.3,421.7 1542.1,426.8 C1542.9,431.9 1543.4,435.1 1544.6,439.0 C1545.8,442.9 1548.2,445.8 1549.4,449.9 C1550.6,453.9 1551.2,456.6 1551.9,463.3 C1552.6,470.0 1553.2,480.6 1553.8,490.0 C1554.4,499.4 1555.1,509.7 1555.8,519.6 C1556.5,529.5 1557.1,539.3 1557.8,549.2 C1558.5,559.1 1558.9,570.6 1559.7,578.8 C1560.5,587.0 1561.7,594.8 1562.7,598.6 C1563.7,602.4 1564.6,601.8 1565.7,601.5 C1566.8,601.2 1568.4,600.4 1569.6,596.6 C1570.8,592.8 1571.8,585.0 1572.6,578.8 C1573.4,572.5 1573.8,564.7 1574.5,559.1 C1575.2,553.5 1576.2,546.9 1577.0,545.3 C1577.8,543.6 1578.6,546.6 1579.5,549.2 C1580.4,551.8 1581.2,557.0 1582.4,561.1 C1583.6,565.2 1585.2,570.6 1586.4,573.9 C1587.6,577.2 1588.2,579.1 1589.3,580.8 C1590.4,582.4 1592.1,582.0 1593.3,583.8 C1594.5,585.6 1595.3,587.8 1596.3,591.6 C1597.3,595.4 1598.0,603.9 1599.2,606.4 C1600.4,608.9 1602.2,609.3 1603.2,606.4 C1604.2,603.5 1604.3,593.8 1605.1,588.7 C1605.9,583.6 1607.1,577.5 1608.1,575.9 C1609.1,574.2 1610.3,575.8 1611.1,578.8 C1611.9,581.8 1612.3,589.5 1613.0,593.6 C1613.7,597.7 1614.2,600.2 1615.0,603.5 C1615.8,606.8 1616.7,610.9 1618.0,613.4 C1619.3,615.9 1621.0,615.7 1622.9,618.3 C1624.9,620.9 1626.9,626.1 1629.7,629.1 C1632.5,632.1 1636.7,635.6 1639.5,636.4 C1642.3,637.2 1644.9,640.5 1646.7,634.0 C1648.5,627.5 1649.2,611.7 1650.4,597.5 C1651.6,583.3 1653.0,565.0 1654.0,548.8 C1655.0,532.6 1655.7,516.4 1656.5,500.2 C1657.3,484.0 1658.2,467.8 1658.9,451.6 C1659.6,435.4 1660.4,417.2 1660.9,403.0 C1661.4,388.8 1661.1,375.2 1661.8,366.5 C1662.5,357.8 1663.9,351.5 1665.0,350.7 C1666.1,349.9 1667.4,353.7 1668.6,361.6 C1669.8,369.5 1670.9,392.4 1672.3,398.1 C1673.7,403.8 1675.9,401.0 1677.1,395.7 C1678.3,390.4 1678.8,379.1 1679.6,366.5 C1680.3,353.9 1680.9,336.1 1681.6,320.0 C1682.3,303.9 1683.0,286.3 1683.8,269.9 C1684.6,253.5 1685.3,237.6 1686.3,221.4 C1687.3,205.2 1688.7,188.2 1689.9,172.8 C1691.1,157.4 1692.3,137.6 1693.5,129.1 C1694.7,120.6 1696.0,118.6 1697.2,121.8 C1698.4,125.0 1699.6,133.9 1700.8,148.5 C1702.0,163.1 1703.5,193.0 1704.5,209.2 C1705.5,225.4 1705.9,243.6 1706.9,245.6 C1707.9,247.6 1709.3,231.5 1710.5,221.4 C1711.7,211.3 1713.0,199.2 1714.2,185.0 C1715.4,170.8 1716.4,149.8 1717.8,136.4 C1719.2,123.1 1721.3,111.0 1722.7,104.9 C1724.1,98.8 1725.1,99.3 1726.3,100.0 C1727.5,100.7 1728.5,100.8 1729.7,108.9 C1730.9,117.0 1732.2,135.0 1733.6,148.5 C1735.0,162.0 1736.5,177.2 1738.0,190.0 C1739.5,202.8 1741.2,213.9 1742.3,225.0 C1743.4,236.1 1743.9,245.2 1744.7,256.5 C1745.5,267.8 1746.4,282.2 1747.2,292.9 C1748.0,303.6 1748.6,317.8 1749.6,320.9 C1750.6,323.9 1752.2,317.9 1753.2,311.2 C1754.2,304.5 1754.9,290.9 1755.7,280.8 C1756.5,270.7 1757.0,256.9 1758.1,250.4 C1759.2,243.9 1761.1,241.9 1762.4,241.9 C1763.7,241.9 1764.9,244.9 1766.0,250.4 C1767.1,255.9 1768.0,265.6 1769.0,274.7 C1770.0,283.8 1771.2,295.0 1772.1,305.1 C1773.0,315.2 1773.7,328.4 1774.5,335.5 C1775.3,342.6 1776.1,347.7 1777.0,347.7 C1777.9,347.7 1779.1,340.6 1780.0,335.5 C1780.9,330.4 1781.5,321.2 1782.4,317.3 C1783.3,313.4 1784.3,312.0 1785.5,312.4 C1786.7,312.8 1788.4,315.8 1789.7,319.7 C1791.0,323.6 1792.2,332.1 1793.4,335.5 C1794.6,338.9 1795.8,340.4 1797.0,340.4 C1798.2,340.4 1799.3,335.3 1800.7,335.5 C1802.1,335.7 1803.9,339.4 1805.5,341.6 C1807.1,343.8 1809.0,344.7 1810.4,348.9 C1811.8,353.1 1812.9,361.0 1813.8,366.6 C1814.7,372.2 1815.2,377.6 1815.9,382.5 C1816.6,387.4 1817.0,392.2 1818.1,396.3 C1819.2,400.4 1820.5,405.1 1822.3,406.9 C1824.1,408.7 1827.1,405.6 1828.7,406.9 C1830.3,408.1 1831.0,410.5 1831.9,414.4 C1832.8,418.3 1833.2,424.1 1834.0,430.3 C1834.8,436.5 1835.8,446.3 1836.7,451.6 C1837.6,456.9 1838.3,462.9 1839.3,462.0 C1840.3,461.1 1841.6,452.4 1842.5,446.2 C1843.4,440.0 1843.8,432.1 1844.6,425.0 C1845.4,417.9 1846.1,408.5 1847.3,403.7 C1848.5,398.9 1850.2,396.3 1851.5,396.3 C1852.8,396.3 1854.1,399.8 1855.2,403.7 C1856.3,407.6 1857.0,414.4 1857.9,419.7 C1858.8,425.0 1859.8,432.1 1860.6,435.6 C1861.4,439.1 1861.9,441.2 1862.7,440.9 C1863.5,440.5 1864.4,437.6 1865.3,433.5 C1866.2,429.4 1867.0,422.2 1868.0,416.5 C1869.0,410.8 1870.3,403.4 1871.2,399.5 C1872.1,395.6 1872.2,396.4 1873.3,393.1 C1874.4,389.9 1877.2,382.2 1878.0,380.0" stroke="#00f"/>
</g>
<g stroke-width="8">
<line x1="460" y1="109.9" x2="570" y2="109.9" stroke="#000"/>
<line x1="460" y1="179.5" x2="570" y2="179.5" stroke="#f00"/>
<line x1="460" y1="249" x2="570" y2="249" stroke="#00f"/>
</g>
<g font-family="Liberation Sans, Arial, sans-serif" font-size="58" fill="#000">
<text transform="translate(583,126) scale(1,1.03)">SBS</text><text transform="translate(582,196) scale(1,1.03)">ABS</text><text transform="translate(583,266) scale(1,1.03)">EBS</text>
</g>
<g stroke="#000" stroke-width="3.8" fill="none">
<line x1="740.3" y1="345.7" x2="736.7" y2="488.4"/>
<line x1="1282.3" y1="293.9" x2="1340.3" y2="385"/>
<line x1="1269.5" y1="475.3" x2="1336.7" y2="528.8"/>
<line x1="1441.3" y1="411" x2="1445" y2="457.2"/>
<line x1="1400.5" y1="549.3" x2="1425.5" y2="573.3"/>
<line x1="1400.5" y1="583" x2="1443.7" y2="584"/>
<line x1="1569.6" y1="525.5" x2="1564.7" y2="590.7"/>
<line x1="1670.2" y1="251.3" x2="1707.4" y2="249.2"/>
<line x1="1760.5" y1="204.6" x2="1749.9" y2="320.4"/>
<line x1="1758.1" y1="389.4" x2="1749.3" y2="454.1"/>
<line x1="1428.6" y1="865.3" x2="1442.2" y2="833.4"/>
<line x1="1603" y1="964" x2="1603" y2="1015.3"/>
</g>
<g font-family="Liberation Sans, Arial, sans-serif" fill="#000" style="font-kerning:none">
<text transform="translate(447.80,654.10) scale(1,1.06)" clip-path="url(#k7)" font-size="49"><tspan x="0.00">3</tspan><tspan x="27.25">4</tspan><tspan x="56.12">1</tspan><tspan x="81.75">6</tspan></text>
<text transform="translate(442.80,791.00) scale(1,1.06)" clip-path="url(#k8)" font-size="49"><tspan x="0.00">3</tspan><tspan x="27.25">4</tspan><tspan x="56.12">1</tspan><tspan x="81.75">7</tspan></text>
<text transform="translate(444.90,1006.00) scale(1,1.06)" clip-path="url(#k9)" font-size="49"><tspan x="0.00">3</tspan><tspan x="27.25">4</tspan><tspan x="56.12">1</tspan><tspan x="81.75">7</tspan></text>
<text transform="translate(678.50,342.60) scale(1,1.06)" font-size="49"><tspan x="0.00">2</tspan><tspan x="27.25">9</tspan><tspan x="54.50">3</tspan><tspan x="81.75">0</tspan></text>
<text transform="translate(672.50,655.00) scale(1,1.06)" font-size="49"><tspan x="0.00">2</tspan><tspan x="27.25">9</tspan><tspan x="54.50">3</tspan><tspan x="81.75">0</tspan></text>
<text transform="translate(682.40,891.60) scale(1,1.06)" clip-path="url(#k10)" font-size="49"><tspan x="0.00">2</tspan><tspan x="27.25">9</tspan><tspan x="54.50">3</tspan><tspan x="83.37">1</tspan></text>
<text transform="translate(1197.16,287.00) scale(1,1.06)" clip-path="url(#k11)" font-size="49"><tspan x="1.62">1</tspan><tspan x="27.25">6</tspan><tspan x="54.50">4</tspan><tspan x="81.75">5</tspan></text>
<text transform="translate(1208.56,472.70) scale(1,1.06)" clip-path="url(#k12)" font-size="49"><tspan x="1.62">1</tspan><tspan x="27.25">6</tspan><tspan x="54.50">4</tspan><tspan x="81.75">7</tspan></text>
<text transform="translate(1275.16,812.90) scale(1,1.06)" clip-path="url(#k13)" font-size="49"><tspan x="1.62">1</tspan><tspan x="27.25">6</tspan><tspan x="54.50">5</tspan><tspan x="83.37">1</tspan></text>
<text transform="translate(1340.92,465.90) scale(1,1.02)" clip-path="url(#k14)" font-size="36.5"><tspan x="1.20">1</tspan><tspan x="20.30">4</tspan><tspan x="40.60">5</tspan><tspan x="60.90">8</tspan></text>
<text transform="translate(1416.02,408.00) scale(1,1.02)" clip-path="url(#k15)" font-size="36.5"><tspan x="1.20">1</tspan><tspan x="20.30">4</tspan><tspan x="41.80">1</tspan><tspan x="60.90">9</tspan></text>
<text transform="translate(1428.82,496.70) scale(1,1.02)" clip-path="url(#k16)" font-size="36.5"><tspan x="1.20">1</tspan><tspan x="20.30">3</tspan><tspan x="40.60">7</tspan><tspan x="62.10">1</tspan></text>
<text transform="translate(1552.82,533.90) scale(1,1.02)" clip-path="url(#k17)" font-size="36.5"><tspan x="1.20">1</tspan><tspan x="21.50">1</tspan><tspan x="40.60">6</tspan><tspan x="60.90">0</tspan></text>
<text transform="translate(1597.80,667.30) scale(1,1.02)" clip-path="url(#k18)" font-size="36.5"><tspan x="0.00">9</tspan><tspan x="20.30">9</tspan><tspan x="41.80">1</tspan></text>
<text transform="translate(1608.60,255.60) scale(1,1.02)" font-size="36.5"><tspan x="0.00">8</tspan><tspan x="20.30">6</tspan><tspan x="40.60">0</tspan></text>
<text transform="translate(1747.90,207.80) scale(1,1.02)" font-size="36.5"><tspan x="0.00">7</tspan><tspan x="20.30">6</tspan><tspan x="40.60">5</tspan></text>
<text transform="translate(1780.80,283.20) scale(1,1.02)" clip-path="url(#k19)" font-size="36.5"><tspan x="0.00">7</tspan><tspan x="21.50">1</tspan><tspan x="40.60">0</tspan></text>
<text transform="translate(1809.10,493.60) scale(1,1.02)" font-size="36.5"><tspan x="0.00">5</tspan><tspan x="20.30">7</tspan><tspan x="40.60">5</tspan></text>
<text transform="translate(1872.60,456.60) scale(1,1.02)" font-size="36.5"><tspan x="0.00">5</tspan><tspan x="20.30">2</tspan><tspan x="40.60">7</tspan></text>
<text transform="translate(1330.42,550.50) scale(1,1.02)" clip-path="url(#k20)" font-size="36.5"><tspan x="1.20">1</tspan><tspan x="20.30">4</tspan><tspan x="40.60">5</tspan><tspan x="60.90">8</tspan></text>
<text transform="translate(1331.52,585.80) scale(1,1.02)" clip-path="url(#k21)" font-size="36.5"><tspan x="1.20">1</tspan><tspan x="20.30">4</tspan><tspan x="40.60">2</tspan><tspan x="60.90">0</tspan></text>
<text transform="translate(1432.92,622.20) scale(1,1.02)" clip-path="url(#k22)" font-size="36.5"><tspan x="1.20">1</tspan><tspan x="20.30">3</tspan><tspan x="40.60">7</tspan><tspan x="62.10">1</tspan></text>
<text transform="translate(1525.22,763.00) scale(1,1.02)" clip-path="url(#k23)" font-size="36.5"><tspan x="1.20">1</tspan><tspan x="21.50">1</tspan><tspan x="40.60">6</tspan><tspan x="60.90">0</tspan></text>
<text transform="translate(1601.20,818.80) scale(1,1.02)" font-size="36.5"><tspan x="0.00">9</tspan><tspan x="20.30">9</tspan><tspan x="40.60">3</tspan></text>
<text transform="translate(1690.00,421.30) scale(1,1.02)" font-size="36.5"><tspan x="0.00">8</tspan><tspan x="20.30">6</tspan><tspan x="40.60">0</tspan></text>
<text transform="translate(1749.20,386.70) scale(1,1.02)" font-size="36.5"><tspan x="0.00">7</tspan><tspan x="20.30">6</tspan><tspan x="40.60">5</tspan></text>
<text transform="translate(1747.00,516.60) scale(1,1.02)" clip-path="url(#k24)" font-size="36.5"><tspan x="0.00">7</tspan><tspan x="21.50">1</tspan><tspan x="40.60">0</tspan></text>
<text transform="translate(1803.30,626.30) scale(1,1.02)" font-size="36.5"><tspan x="0.00">5</tspan><tspan x="20.30">7</tspan><tspan x="40.60">5</tspan></text>
<text transform="translate(1856.70,598.90) scale(1,1.02)" font-size="36.5"><tspan x="0.00">5</tspan><tspan x="20.30">2</tspan><tspan x="40.60">6</tspan></text>
<text transform="translate(1335.02,853.10) scale(1,1.02)" clip-path="url(#k25)" font-size="36.5"><tspan x="1.20">1</tspan><tspan x="20.30">4</tspan><tspan x="40.60">6</tspan><tspan x="60.90">0</tspan></text>
<text transform="translate(1393.12,897.40) scale(1,1.02)" clip-path="url(#k26)" font-size="36.5"><tspan x="1.20">1</tspan><tspan x="20.30">4</tspan><tspan x="40.60">2</tspan><tspan x="60.90">0</tspan></text>
<text transform="translate(1440.92,865.50) scale(1,1.02)" clip-path="url(#k27)" font-size="36.5"><tspan x="1.20">1</tspan><tspan x="20.30">3</tspan><tspan x="40.60">7</tspan><tspan x="62.10">1</tspan></text>
<text transform="translate(1511.32,993.60) scale(1,1.02)" clip-path="url(#k28)" font-size="36.5"><tspan x="1.20">1</tspan><tspan x="21.50">1</tspan><tspan x="40.60">6</tspan><tspan x="60.90">2</tspan></text>
<text transform="translate(1550.02,1033.50) scale(1,1.02)" clip-path="url(#k29)" font-size="36.5"><tspan x="1.20">1</tspan><tspan x="20.30">0</tspan><tspan x="40.60">8</tspan><tspan x="60.90">2</tspan></text>
<text transform="translate(1637.50,1018.70) scale(1,1.02)" clip-path="url(#k30)" font-size="36.5"><tspan x="0.00">9</tspan><tspan x="20.30">9</tspan><tspan x="41.80">1</tspan></text>
<text transform="translate(1667.90,769.20) scale(1,1.02)" font-size="36.5"><tspan x="0.00">9</tspan><tspan x="20.30">2</tspan><tspan x="40.60">9</tspan></text>
<text transform="translate(1685.00,647.20) scale(1,1.02)" clip-path="url(#k31)" font-size="36.5"><tspan x="0.00">8</tspan><tspan x="20.30">6</tspan><tspan x="41.80">1</tspan></text>
<text transform="translate(1710.00,716.70) scale(1,1.02)" font-size="36.5"><tspan x="0.00">7</tspan><tspan x="20.30">6</tspan><tspan x="40.60">6</tspan></text>
<text transform="translate(1743.10,749.80) scale(1,1.02)" clip-path="url(#k32)" font-size="36.5"><tspan x="0.00">7</tspan><tspan x="21.50">1</tspan><tspan x="40.60">0</tspan></text>
<text transform="translate(1811.50,855.80) scale(1,1.02)" font-size="36.5"><tspan x="0.00">5</tspan><tspan x="20.30">7</tspan><tspan x="40.60">5</tspan></text>
<text transform="translate(1867.00,825.80) scale(1,1.02)" font-size="36.5"><tspan x="0.00">5</tspan><tspan x="20.30">2</tspan><tspan x="40.60">7</tspan></text>
</g>
<g font-family="Liberation Sans, Arial, sans-serif" fill="#000">
<text transform="translate(89,840.2) rotate(-90)" x="-2" y="0" font-size="78.8">Transmitance%</text>
<text x="731.6" y="1272" font-size="79.5">Wavenumber (cm</text>
<text x="1355" y="1230" font-size="48" clip-path="url(#ksup)">-<tspan dx="1.6">1</tspan></text>
<text x="1398.6" y="1272" font-size="79.5">)</text>
</g>
<defs><clipPath id="k1"><rect x="-50" y="-166.5" width="192.6" height="160.24"/><rect x="-50.00" y="-6.26" width="53.66" height="55.5"/><rect x="14.62" y="-6.26" width="7.61" height="55.5"/><rect x="32.49" y="-6.26" width="110.11" height="55.5"/></clipPath><clipPath id="k2"><rect x="-50" y="-166.5" width="192.6" height="160.24"/><rect x="-50.00" y="-6.26" width="53.66" height="55.5"/><rect x="14.62" y="-6.26" width="7.61" height="55.5"/><rect x="32.49" y="-6.26" width="110.11" height="55.5"/></clipPath><clipPath id="k3"><rect x="-50" y="-166.5" width="192.6" height="160.24"/><rect x="-50.00" y="-6.26" width="53.66" height="55.5"/><rect x="14.62" y="-6.26" width="7.61" height="55.5"/><rect x="32.49" y="-6.26" width="110.11" height="55.5"/></clipPath><clipPath id="k4"><rect x="-50" y="-166.5" width="192.6" height="160.24"/><rect x="-50.00" y="-6.26" width="53.66" height="55.5"/><rect x="14.62" y="-6.26" width="7.61" height="55.5"/><rect x="32.49" y="-6.26" width="110.11" height="55.5"/></clipPath><clipPath id="k5"><rect x="-50" y="-166.5" width="223.5" height="160.24"/><rect x="-50.00" y="-6.26" width="53.66" height="55.5"/><rect x="14.62" y="-6.26" width="7.61" height="55.5"/><rect x="32.49" y="-6.26" width="140.98" height="55.5"/></clipPath><clipPath id="k6"><rect x="-50" y="-166.5" width="223.5" height="160.24"/><rect x="-50.00" y="-6.26" width="53.66" height="55.5"/><rect x="14.62" y="-6.26" width="7.61" height="55.5"/><rect x="32.49" y="-6.26" width="140.98" height="55.5"/></clipPath><clipPath id="k7"><rect x="-50" y="-147.0" width="209.0" height="142.74"/><rect x="-50.00" y="-4.26" width="108.35" height="49.0"/><rect x="68.44" y="-4.26" width="4.33" height="49.0"/><rect x="82.48" y="-4.26" width="76.53" height="49.0"/></clipPath><clipPath id="k8"><rect x="-50" y="-147.0" width="209.0" height="142.74"/><rect x="-50.00" y="-4.26" width="108.35" height="49.0"/><rect x="68.44" y="-4.26" width="4.33" height="49.0"/><rect x="82.48" y="-4.26" width="76.53" height="49.0"/></clipPath><clipPath id="k9"><rect x="-50" y="-147.0" width="209.0" height="142.74"/><rect x="-50.00" y="-4.26" width="108.35" height="49.0"/><rect x="68.44" y="-4.26" width="4.33" height="49.0"/><rect x="82.48" y="-4.26" width="76.53" height="49.0"/></clipPath><clipPath id="k10"><rect x="-50" y="-147.0" width="209.0" height="142.74"/><rect x="-50.00" y="-4.26" width="135.60" height="49.0"/><rect x="95.69" y="-4.26" width="4.33" height="49.0"/><rect x="109.73" y="-4.26" width="49.28" height="49.0"/></clipPath><clipPath id="k11"><rect x="-50" y="-147.0" width="209.0" height="142.74"/><rect x="-50.00" y="-4.26" width="53.85" height="49.0"/><rect x="13.94" y="-4.26" width="4.33" height="49.0"/><rect x="27.98" y="-4.26" width="131.03" height="49.0"/></clipPath><clipPath id="k12"><rect x="-50" y="-147.0" width="209.0" height="142.74"/><rect x="-50.00" y="-4.26" width="53.85" height="49.0"/><rect x="13.94" y="-4.26" width="4.33" height="49.0"/><rect x="27.98" y="-4.26" width="131.03" height="49.0"/></clipPath><clipPath id="k13"><rect x="-50" y="-147.0" width="209.0" height="142.74"/><rect x="-50.00" y="-4.26" width="53.85" height="49.0"/><rect x="13.94" y="-4.26" width="4.33" height="49.0"/><rect x="27.98" y="-4.26" width="57.63" height="49.0"/><rect x="95.69" y="-4.26" width="4.33" height="49.0"/><rect x="109.73" y="-4.26" width="49.28" height="49.0"/></clipPath><clipPath id="k14"><rect x="-50" y="-109.5" width="181.2" height="106.17"/><rect x="-50.00" y="-3.33" width="52.48" height="36.5"/><rect x="10.38" y="-3.33" width="3.23" height="36.5"/><rect x="21.22" y="-3.33" width="109.98" height="36.5"/></clipPath><clipPath id="k15"><rect x="-50" y="-109.5" width="181.2" height="106.17"/><rect x="-50.00" y="-3.33" width="52.48" height="36.5"/><rect x="10.38" y="-3.33" width="3.23" height="36.5"/><rect x="21.22" y="-3.33" width="21.86" height="36.5"/><rect x="50.98" y="-3.33" width="3.23" height="36.5"/><rect x="61.82" y="-3.33" width="69.38" height="36.5"/></clipPath><clipPath id="k16"><rect x="-50" y="-109.5" width="181.2" height="106.17"/><rect x="-50.00" y="-3.33" width="52.48" height="36.5"/><rect x="10.38" y="-3.33" width="3.23" height="36.5"/><rect x="21.22" y="-3.33" width="42.16" height="36.5"/><rect x="71.28" y="-3.33" width="3.23" height="36.5"/><rect x="82.12" y="-3.33" width="49.08" height="36.5"/></clipPath><clipPath id="k17"><rect x="-50" y="-109.5" width="181.2" height="106.17"/><rect x="-50.00" y="-3.33" width="52.48" height="36.5"/><rect x="10.38" y="-3.33" width="3.23" height="36.5"/><rect x="21.22" y="-3.33" width="1.56" height="36.5"/><rect x="30.68" y="-3.33" width="3.23" height="36.5"/><rect x="41.52" y="-3.33" width="89.68" height="36.5"/></clipPath><clipPath id="k18"><rect x="-50" y="-109.5" width="160.9" height="106.17"/><rect x="-50.00" y="-3.33" width="93.08" height="36.5"/><rect x="50.98" y="-3.33" width="3.23" height="36.5"/><rect x="61.82" y="-3.33" width="49.08" height="36.5"/></clipPath><clipPath id="k19"><rect x="-50" y="-109.5" width="160.9" height="106.17"/><rect x="-50.00" y="-3.33" width="72.78" height="36.5"/><rect x="30.68" y="-3.33" width="3.23" height="36.5"/><rect x="41.52" y="-3.33" width="69.38" height="36.5"/></clipPath><clipPath id="k20"><rect x="-50" y="-109.5" width="181.2" height="106.17"/><rect x="-50.00" y="-3.33" width="52.48" height="36.5"/><rect x="10.38" y="-3.33" width="3.23" height="36.5"/><rect x="21.22" y="-3.33" width="109.98" height="36.5"/></clipPath><clipPath id="k21"><rect x="-50" y="-109.5" width="181.2" height="106.17"/><rect x="-50.00" y="-3.33" width="52.48" height="36.5"/><rect x="10.38" y="-3.33" width="3.23" height="36.5"/><rect x="21.22" y="-3.33" width="109.98" height="36.5"/></clipPath><clipPath id="k22"><rect x="-50" y="-109.5" width="181.2" height="106.17"/><rect x="-50.00" y="-3.33" width="52.48" height="36.5"/><rect x="10.38" y="-3.33" width="3.23" height="36.5"/><rect x="21.22" y="-3.33" width="42.16" height="36.5"/><rect x="71.28" y="-3.33" width="3.23" height="36.5"/><rect x="82.12" y="-3.33" width="49.08" height="36.5"/></clipPath><clipPath id="k23"><rect x="-50" y="-109.5" width="181.2" height="106.17"/><rect x="-50.00" y="-3.33" width="52.48" height="36.5"/><rect x="10.38" y="-3.33" width="3.23" height="36.5"/><rect x="21.22" y="-3.33" width="1.56" height="36.5"/><rect x="30.68" y="-3.33" width="3.23" height="36.5"/><rect x="41.52" y="-3.33" width="89.68" height="36.5"/></clipPath><clipPath id="k24"><rect x="-50" y="-109.5" width="160.9" height="106.17"/><rect x="-50.00" y="-3.33" width="72.78" height="36.5"/><rect x="30.68" y="-3.33" width="3.23" height="36.5"/><rect x="41.52" y="-3.33" width="69.38" height="36.5"/></clipPath><clipPath id="k25"><rect x="-50" y="-109.5" width="181.2" height="106.17"/><rect x="-50.00" y="-3.33" width="52.48" height="36.5"/><rect x="10.38" y="-3.33" width="3.23" height="36.5"/><rect x="21.22" y="-3.33" width="109.98" height="36.5"/></clipPath><clipPath id="k26"><rect x="-50" y="-109.5" width="181.2" height="106.17"/><rect x="-50.00" y="-3.33" width="52.48" height="36.5"/><rect x="10.38" y="-3.33" width="3.23" height="36.5"/><rect x="21.22" y="-3.33" width="109.98" height="36.5"/></clipPath><clipPath id="k27"><rect x="-50" y="-109.5" width="181.2" height="106.17"/><rect x="-50.00" y="-3.33" width="52.48" height="36.5"/><rect x="10.38" y="-3.33" width="3.23" height="36.5"/><rect x="21.22" y="-3.33" width="42.16" height="36.5"/><rect x="71.28" y="-3.33" width="3.23" height="36.5"/><rect x="82.12" y="-3.33" width="49.08" height="36.5"/></clipPath><clipPath id="k28"><rect x="-50" y="-109.5" width="181.2" height="106.17"/><rect x="-50.00" y="-3.33" width="52.48" height="36.5"/><rect x="10.38" y="-3.33" width="3.23" height="36.5"/><rect x="21.22" y="-3.33" width="1.56" height="36.5"/><rect x="30.68" y="-3.33" width="3.23" height="36.5"/><rect x="41.52" y="-3.33" width="89.68" height="36.5"/></clipPath><clipPath id="k29"><rect x="-50" y="-109.5" width="181.2" height="106.17"/><rect x="-50.00" y="-3.33" width="52.48" height="36.5"/><rect x="10.38" y="-3.33" width="3.23" height="36.5"/><rect x="21.22" y="-3.33" width="109.98" height="36.5"/></clipPath><clipPath id="k30"><rect x="-50" y="-109.5" width="160.9" height="106.17"/><rect x="-50.00" y="-3.33" width="93.08" height="36.5"/><rect x="50.98" y="-3.33" width="3.23" height="36.5"/><rect x="61.82" y="-3.33" width="49.08" height="36.5"/></clipPath><clipPath id="k31"><rect x="-50" y="-109.5" width="160.9" height="106.17"/><rect x="-50.00" y="-3.33" width="93.08" height="36.5"/><rect x="50.98" y="-3.33" width="3.23" height="36.5"/><rect x="61.82" y="-3.33" width="49.08" height="36.5"/></clipPath><clipPath id="k32"><rect x="-50" y="-109.5" width="160.9" height="106.17"/><rect x="-50.00" y="-3.33" width="72.78" height="36.5"/><rect x="30.68" y="-3.33" width="3.23" height="36.5"/><rect x="41.52" y="-3.33" width="69.38" height="36.5"/></clipPath><clipPath id="ksup"><rect x="1300" y="1150" width="150" height="75.81"/><rect x="1300" y="1225.81" width="74.74" height="40"/><rect x="1384.65" y="1225.81" width="4.24" height="40"/><rect x="1398.44" y="1225.81" width="51.56" height="40"/></clipPath></defs>
</svg></body></html>
